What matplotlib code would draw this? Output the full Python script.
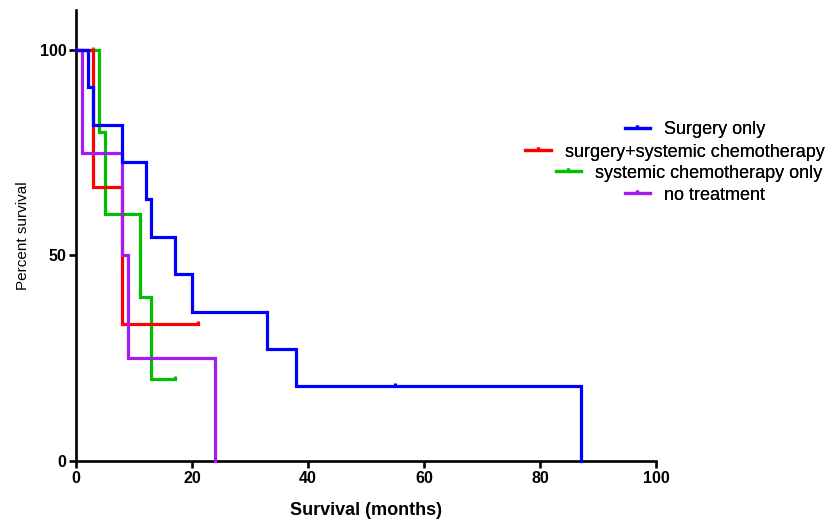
import matplotlib
matplotlib.use("Agg")
import matplotlib.pyplot as plt
from matplotlib.path import Path
from matplotlib.lines import Line2D
import numpy as np

plt.rcParams['font.family'] = ['Liberation Sans', 'DejaVu Sans']

# ---- data (months, event flag: 1 = death, 0 = censored) ----
group_names = ["Surgery only", "surgery+systemic chemotherapy",
               "systemic chemotherapy only", "no treatment"]
surgery_times = [2, 3, 8, 12, 13, 17, 20, 33, 38, 55, 87]
surgery_events = [1, 1, 1, 1, 1, 1, 1, 1, 1, 0, 1]
combo_times = [3, 8, 21]
combo_events = [1, 1, 0]
chemo_times = [3, 4, 5, 11, 13, 17]
chemo_events = [0, 1, 1, 1, 1, 0]
none_times = [1, 8, 9, 24]
none_events = [1, 1, 1, 1]

x_ticks = [0, 20, 40, 60, 80, 100]
y_ticks = [0, 50, 100]

colors = ["#0000FF", "#FF0000", "#00C000", "#A61CF0"]
zorders = [5, 4, 3, 4.5]


def kaplan_meier(times, events):
    t = np.asarray(times, float)
    e = np.asarray(events, int)
    order = np.argsort(t, kind="stable")
    t, e = t[order], e[order]
    n = len(t)
    s = 100.0
    xs, ys = [0.0], [100.0]
    cens_x, cens_y = [], []
    i = 0
    at_risk = n
    while i < n:
        ti = t[i]
        d = int(np.sum((t == ti) & (e == 1)))
        c = int(np.sum((t == ti) & (e == 0)))
        if c:
            cens_x.append(ti)
            cens_y.append(s)
        if d:
            s = s * (1 - d / at_risk)
            xs.append(ti)
            ys.append(s)
        elif i + d + c >= n:
            xs.append(ti)
            ys.append(s)
        at_risk -= d + c
        i += d + c
    return xs, ys, cens_x, cens_y


fig = plt.figure(figsize=(8.33, 5.23), dpi=100)
ax = fig.add_axes([76 / 833, 62 / 523, 580 / 833, 451 / 523])

tick_marker = Path([(0, 0), (0, 1)])

groups = [(surgery_times, surgery_events), (combo_times, combo_events),
          (chemo_times, chemo_events), (none_times, none_events)]

for (tt, ee), col, z in zip(groups, colors, zorders):
    xs, ys, cx, cy = kaplan_meier(tt, ee)
    ax.step(xs, ys, where="post", color=col, lw=2.3, zorder=z,
            clip_on=False, solid_joinstyle="miter")
    ax.plot(cx, cy, linestyle="none", marker=tick_marker, markersize=5,
            markeredgewidth=2.3, color=col, zorder=z, clip_on=False)

ax.set_xlim(0, 100)
ax.set_ylim(0, 109.7)
ax.set_xticks(x_ticks)
ax.set_yticks(y_ticks)
ax.set_xticklabels([str(v) for v in x_ticks], fontweight="bold", fontsize=11.5)
ax.set_yticklabels([str(v) for v in y_ticks], fontweight="bold", fontsize=11.5)
for side in ["top", "right"]:
    ax.spines[side].set_visible(False)
for side in ["left", "bottom"]:
    ax.spines[side].set_linewidth(1.9)
ax.tick_params(direction="out", length=5, width=1.9, pad=2)

ax.set_xlabel("Survival (months)", fontweight="bold", fontsize=13, labelpad=12)
ax.set_ylabel("Percent survival", fontsize=11, labelpad=7)

# legends: one row each, centered
row_centers = [(695, 130), (675, 152), (689, 173), (695, 195)]
for name, col, (cxp, cyp) in zip(group_names, colors, row_centers):
    h = Line2D([], [], color=col, lw=2.3, marker=tick_marker, markersize=4,
               markeredgewidth=2.3)
    leg = fig.legend([h], [name], loc="center",
                     bbox_to_anchor=(cxp / 833, 1 - cyp / 523),
                     frameon=False, fontsize=13, handlelength=1.4,
                     handletextpad=0.8, numpoints=1, borderpad=0)
    fig.add_artist(leg)

fig.savefig("out.png", dpi=100)
